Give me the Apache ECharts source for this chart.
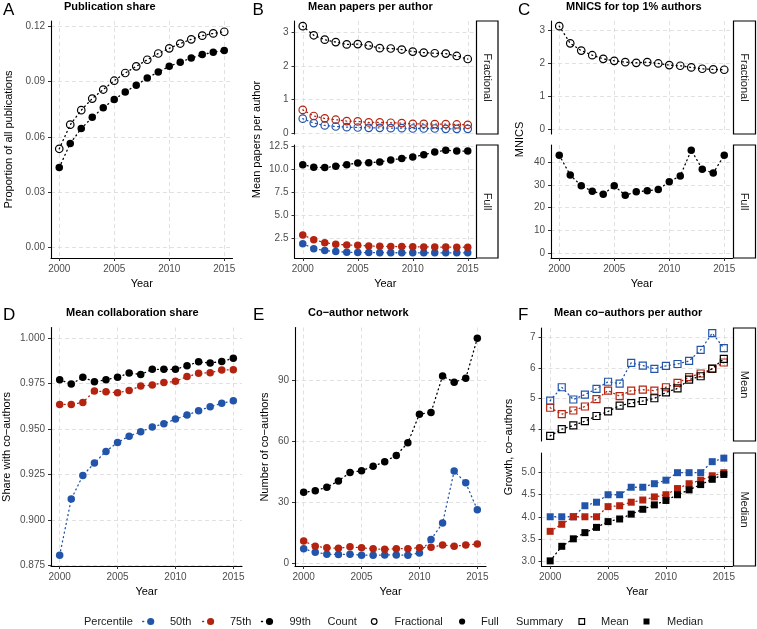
<!DOCTYPE html>
<html>
<head>
<meta charset="utf-8">
<script src="https://cdn.jsdelivr.net/npm/echarts@6.0.0/dist/echarts.min.js"></script>
<style>
html,body{margin:0;padding:0;background:#ffffff;}
#chart{width:757px;height:629px;}
</style>
</head>
<body>
<div id="chart"></div>
<script>
// ---------------- data ----------------
const years = [2000,2001,2002,2003,2004,2005,2006,2007,2008,2009,2010,2011,2012,2013,2014,2015];
const xTicks = [2000, 2005, 2010, 2015];

// A: Publication share
const shareFractional = [0.0535,0.0666,0.0745,0.0808,0.0857,0.0905,0.0947,0.0983,0.1019,0.1053,0.1081,0.1107,0.1130,0.1150,0.1162,0.1171];
const shareFull       = [0.0433,0.0564,0.0645,0.0706,0.0758,0.0803,0.0844,0.0880,0.0920,0.0952,0.0983,0.1006,0.1028,0.1047,0.1060,0.1069];
const ticksA = [0, 0.03, 0.06, 0.09, 0.12];

// B: Mean papers per author
const papersFrac50 = [0.44,0.31,0.24,0.21,0.19,0.18,0.17,0.17,0.16,0.16,0.15,0.15,0.15,0.14,0.14,0.14];
const papersFrac75 = [0.70,0.52,0.45,0.41,0.37,0.36,0.33,0.33,0.32,0.31,0.29,0.29,0.28,0.28,0.27,0.26];
const papersFrac99 = [3.17,2.90,2.77,2.70,2.63,2.64,2.60,2.52,2.51,2.48,2.42,2.39,2.37,2.36,2.29,2.20];
const papersFull50 = [1.92,1.38,1.17,1.06,0.99,0.96,0.95,0.94,0.93,0.93,0.92,0.92,0.92,0.92,0.92,0.92];
const papersFull75 = [2.86,2.36,2.03,1.85,1.78,1.74,1.67,1.63,1.62,1.60,1.58,1.57,1.56,1.55,1.54,1.53];
const papersFull99 = [10.52,10.23,10.20,10.34,10.52,10.70,10.74,10.81,11.03,11.20,11.35,11.60,11.89,12.10,12.00,12.00];
const ticksBFrac = [0, 1, 2, 3];
const ticksBFull = [2.5, 5, 7.5, 10, 12.5];

// C: MNICS for top 1% authors
const mnicsFractional = [3.11,2.59,2.37,2.23,2.12,2.06,2.02,2.00,2.02,1.98,1.93,1.91,1.86,1.82,1.80,1.79];
const mnicsFull       = [43.1,34.3,29.6,27.2,25.8,29.6,25.4,26.9,27.4,27.9,31.4,33.9,45.3,36.9,35.2,43.1];
const ticksCFrac = [0, 1, 2, 3];
const ticksCFull = [0, 10, 20, 30, 40];

// D: Mean collaboration share
const collab50 = [0.8805,0.9114,0.9244,0.9313,0.9377,0.9426,0.9461,0.9485,0.9511,0.9529,0.9555,0.9577,0.9601,0.9623,0.9642,0.9656];
const collab75 = [0.9636,0.9636,0.9647,0.9710,0.9706,0.9700,0.9713,0.9737,0.9743,0.9756,0.9763,0.9789,0.9807,0.9811,0.9825,0.9827];
const collab99 = [0.9772,0.9748,0.9785,0.9761,0.9772,0.9785,0.9809,0.9801,0.9829,0.9829,0.9829,0.9849,0.9871,0.9864,0.9873,0.9890];
const ticksD = [0.875, 0.9, 0.925, 0.95, 0.975, 1.0];

// E: Co-author network
const coauth50 = [7.0,5.2,4.3,4.1,4.3,3.8,3.8,3.9,3.9,3.8,4.9,11.5,19.6,45.2,39.4,26.2];
const coauth75 = [10.8,8.2,7.4,7.2,7.9,7.4,6.9,6.7,7.0,7.0,7.5,7.7,8.8,8.2,8.8,9.3];
const coauth99 = [34.7,35.5,37.2,40.3,44.5,45.3,47.5,49.8,52.9,59.1,73.2,74.0,92.0,88.9,90.8,110.5];
const ticksE = [0, 30, 60, 90];

// F: Mean co-authors per author
const growthMean50 = [4.93,5.37,4.97,5.13,5.32,5.55,5.49,6.17,6.08,5.97,6.07,6.13,6.23,6.59,7.14,6.65];
const growthMean75 = [4.70,4.49,4.61,4.74,4.98,5.26,5.08,5.26,5.29,5.26,5.37,5.51,5.70,5.82,5.97,6.18];
const growthMean99 = [3.78,4.00,4.12,4.26,4.43,4.58,4.77,4.85,4.92,5.01,5.20,5.33,5.62,5.73,5.98,6.30];
const growthMedian50 = [4.00,4.00,4.00,4.25,4.33,4.50,4.50,4.67,4.67,4.75,4.83,5.00,5.00,5.00,5.25,5.33];
const growthMedian75 = [3.67,3.83,4.00,4.00,4.00,4.23,4.25,4.33,4.38,4.45,4.50,4.64,4.75,4.83,4.93,5.00];
const growthMedian99 = [3.00,3.33,3.50,3.64,3.76,3.89,3.95,4.06,4.17,4.27,4.37,4.50,4.61,4.73,4.85,4.96];
const ticksFMean = [4, 5, 6, 7];
const ticksFMedian = [3, 3.5, 4, 4.5, 5];

// ---------------- styling ----------------
const FONT = '"Liberation Sans", Arial, Helvetica, sans-serif';
const COL50 = '#2255aa';
const COL75 = '#b3230f';
const COL99 = '#000000';

function padRange(arrs, extra) {
  const v = [].concat(...arrs, extra || []);
  const lo = Math.min(...v), hi = Math.max(...v), p = (hi - lo) * 0.05;
  return [lo - p, hi + p];
}
const xRange = padRange([years]);

const grids = [], xAxes = [], yAxes = [], series = [];

function xAxisDef(gi, showX) {
  return {
    type: 'value', gridIndex: gi, min: xRange[0], max: xRange[1],
    axisLine: { show: showX, onZero: false, lineStyle: { color: '#000', width: 1.1 } },
    axisTick: { show: showX, customValues: xTicks, length: 3, lineStyle: { color: '#333', width: 1 } },
    axisLabel: { show: showX, customValues: xTicks, margin: 6, color: '#4d4d4d', fontSize: 10, fontFamily: FONT,
                 formatter: v => String(Math.round(v)) },
    splitLine: { show: true, lineStyle: { color: '#d9d9d9', type: [4, 3], width: 0.8 } },
    name: showX ? 'Year' : '', nameLocation: 'middle', nameGap: 20,
    nameTextStyle: { color: '#000', fontSize: 11, fontFamily: FONT }
  };
}
function yAxisDef(gi, range, ticks, digits) {
  return {
    type: 'value', gridIndex: gi, min: range[0], max: range[1],
    axisLine: { show: true, onZero: false, lineStyle: { color: '#000', width: 1.1 } },
    axisTick: { show: true, customValues: ticks, length: 3, lineStyle: { color: '#333', width: 1 } },
    axisLabel: { show: true, customValues: ticks, margin: 6, color: '#4d4d4d', fontSize: 10, fontFamily: FONT,
                 formatter: v => v.toFixed(digits) },
    splitLine: { show: true, lineStyle: { color: '#d9d9d9', type: [4, 3], width: 0.8 } }
  };
}
function mkSeries(gi, vals, color, shape, filled) {
  return {
    type: 'line', xAxisIndex: gi, yAxisIndex: gi,
    data: years.map((y, i) => [y, vals[i]]),
    symbol: shape, symbolSize: shape === 'rect' ? 7 : 7.5,
    lineStyle: { color: color, width: 1.3, type: [1, 3.5], cap: 'round' },
    itemStyle: filled ? { color: color } : { color: 'rgba(255,255,255,0)', borderColor: color, borderWidth: 1.2 },
    emphasis: { disabled: true }, silent: true, animation: false
  };
}
function addPanel(rect, yRange, yTicks, digits, showX, list) {
  const gi = grids.length;
  grids.push({ left: rect[0], top: rect[1], width: rect[2], height: rect[3], containLabel: false, outerBoundsMode: 'none' });
  xAxes.push(xAxisDef(gi, showX));
  yAxes.push(yAxisDef(gi, yRange, yTicks, digits));
  list.forEach(s => series.push(mkSeries(gi, s[0], s[1], s[2], s[3])));
}

// A
addPanel([51, 21, 181.5, 237], padRange([shareFractional, shareFull], [0]), ticksA, 2, true,
  [[shareFractional, COL99, 'circle', false], [shareFull, COL99, 'circle', true]]);
// B
addPanel([294.5, 21, 181.5, 113], padRange([papersFrac50, papersFrac75, papersFrac99]), ticksBFrac, 0, false,
  [[papersFrac50, COL50, 'circle', false], [papersFrac75, COL75, 'circle', false], [papersFrac99, COL99, 'circle', false]]);
addPanel([294.5, 145, 181.5, 113], padRange([papersFull50, papersFull75, papersFull99]), ticksBFull, 1, true,
  [[papersFull50, COL50, 'circle', true], [papersFull75, COL75, 'circle', true], [papersFull99, COL99, 'circle', true]]);
// C
addPanel([551, 21, 181.5, 113], padRange([mnicsFractional], [0]), ticksCFrac, 0, false,
  [[mnicsFractional, COL99, 'circle', false]]);
addPanel([551, 145, 181.5, 113], padRange([mnicsFull], [0]), ticksCFull, 0, true,
  [[mnicsFull, COL99, 'circle', true]]);
// D
addPanel([51, 327.5, 191, 238.5], padRange([collab50, collab75, collab99], [1]), ticksD, 3, true,
  [[collab50, COL50, 'circle', true], [collab75, COL75, 'circle', true], [collab99, COL99, 'circle', true]]);
// E
addPanel([295, 327.5, 191, 238.5], padRange([coauth50, coauth75, coauth99]), ticksE, 0, true,
  [[coauth50, COL50, 'circle', true], [coauth75, COL75, 'circle', true], [coauth99, COL99, 'circle', true]]);
// F
addPanel([541.5, 328, 191, 113], padRange([growthMean50, growthMean75, growthMean99]), ticksFMean, 0, false,
  [[growthMean50, COL50, 'rect', false], [growthMean75, COL75, 'rect', false], [growthMean99, COL99, 'rect', false]]);
addPanel([541.5, 453, 191, 113], padRange([growthMedian50, growthMedian75, growthMedian99]), ticksFMedian, 1, true,
  [[growthMedian50, COL50, 'rect', true], [growthMedian75, COL75, 'rect', true], [growthMedian99, COL99, 'rect', true]]);

// ---------------- text / annotations ----------------
const G = [];
function txt(t, x, y, font, fill, align, rot) {
  G.push({ type: 'text', x: x, y: y, rotation: rot || 0, silent: true,
    style: { text: t, font: font, fill: fill, align: align || 'left', verticalAlign: 'middle' } });
}
const fLetter = '17px ' + FONT, fTitle = 'bold 11px ' + FONT, fAxis = '11px ' + FONT;
// panel letters & titles
txt('A', 3, 10.5, fLetter, '#000');   txt('Publication share', 64, 6.5, fTitle, '#000');
txt('B', 252.5, 10.5, fLetter, '#000'); txt('Mean papers per author', 308, 6.5, fTitle, '#000');
txt('C', 518, 10.5, fLetter, '#000'); txt('MNICS for top 1% authors', 566, 6.5, fTitle, '#000');
txt('D', 3, 315, fLetter, '#000');    txt('Mean collaboration share', 66, 313, fTitle, '#000');
txt('E', 253, 315, fLetter, '#000');  txt('Co\u2212author network', 308, 313, fTitle, '#000');
txt('F', 518, 315, fLetter, '#000');  txt('Mean co\u2212authors per author', 554, 313, fTitle, '#000');
// y-axis titles
txt('Proportion of all publications', 9, 139.5, fAxis, '#000', 'center', Math.PI / 2);
txt('Mean papers per author', 257, 139.5, fAxis, '#000', 'center', Math.PI / 2);
txt('MNICS', 520, 139.5, fAxis, '#000', 'center', Math.PI / 2);
txt('Share with co\u2212authors', 7, 447, fAxis, '#000', 'center', Math.PI / 2);
txt('Number of co\u2212authors', 265, 447, fAxis, '#000', 'center', Math.PI / 2);
txt('Growth, co\u2212authors', 509, 447, fAxis, '#000', 'center', Math.PI / 2);
// facet strips
function strip(x, y, w, h, t) {
  G.push({ type: 'rect', silent: true, shape: { x: x, y: y, width: w, height: h },
    style: { fill: '#ffffff', stroke: '#000', lineWidth: 1.2 } });
  txt(t, x + w / 2, y + h / 2, fAxis, '#1a1a1a', 'center', -Math.PI / 2);
}
strip(476.5, 21, 21.5, 113, 'Fractional');
strip(476.5, 145, 21.5, 113, 'Full');
strip(733.5, 21, 22, 113, 'Fractional');
strip(733.5, 145, 22, 113, 'Full');
strip(733.5, 328, 22, 113, 'Mean');
strip(733.5, 453, 22, 113, 'Median');

// legend
const LY = 621.5, fLeg = '11px ' + FONT;
txt('Percentile', 84, LY, fLeg, '#1a1a1a');
function legPerc(cx, color) {
  G.push({ type: 'line', silent: true, shape: { x1: cx - 8, y1: LY, x2: cx + 8, y2: LY },
    style: { stroke: color, lineWidth: 1.4, lineDash: [1, 7], lineCap: 'round' } });
  G.push({ type: 'circle', silent: true, shape: { cx: cx, cy: LY, r: 3.6 }, style: { fill: color } });
}
legPerc(150.7, COL50); txt('50th', 170, LY, fLeg, '#1a1a1a');
legPerc(210.6, COL75); txt('75th', 230, LY, fLeg, '#1a1a1a');
legPerc(269.5, COL99); txt('99th', 289.5, LY, fLeg, '#1a1a1a');
txt('Count', 327.5, LY, fLeg, '#1a1a1a');
G.push({ type: 'circle', silent: true, shape: { cx: 374.2, cy: LY, r: 2.8 }, style: { fill: 'none', stroke: '#000', lineWidth: 1.2 } });
txt('Fractional', 394.5, LY, fLeg, '#1a1a1a');
G.push({ type: 'circle', silent: true, shape: { cx: 462.1, cy: LY, r: 3.1 }, style: { fill: '#000' } });
txt('Full', 481, LY, fLeg, '#1a1a1a');
txt('Summary', 516, LY, fLeg, '#1a1a1a');
G.push({ type: 'rect', silent: true, shape: { x: 579, y: LY - 2.8, width: 5.6, height: 5.6 }, style: { fill: 'none', stroke: '#000', lineWidth: 1.2 } });
txt('Mean', 601, LY, fLeg, '#1a1a1a');
G.push({ type: 'rect', silent: true, shape: { x: 643.5, y: LY - 3, width: 6, height: 6 }, style: { fill: '#000' } });
txt('Median', 667, LY, fLeg, '#1a1a1a');

const chart = echarts.init(document.getElementById('chart'), null, { renderer: 'canvas', width: 757, height: 629 });
chart.setOption({
  backgroundColor: '#ffffff',
  animation: false,
  grid: grids,
  xAxis: xAxes,
  yAxis: yAxes,
  series: series,
  graphic: { elements: G }
});
</script>
</body>
</html>
